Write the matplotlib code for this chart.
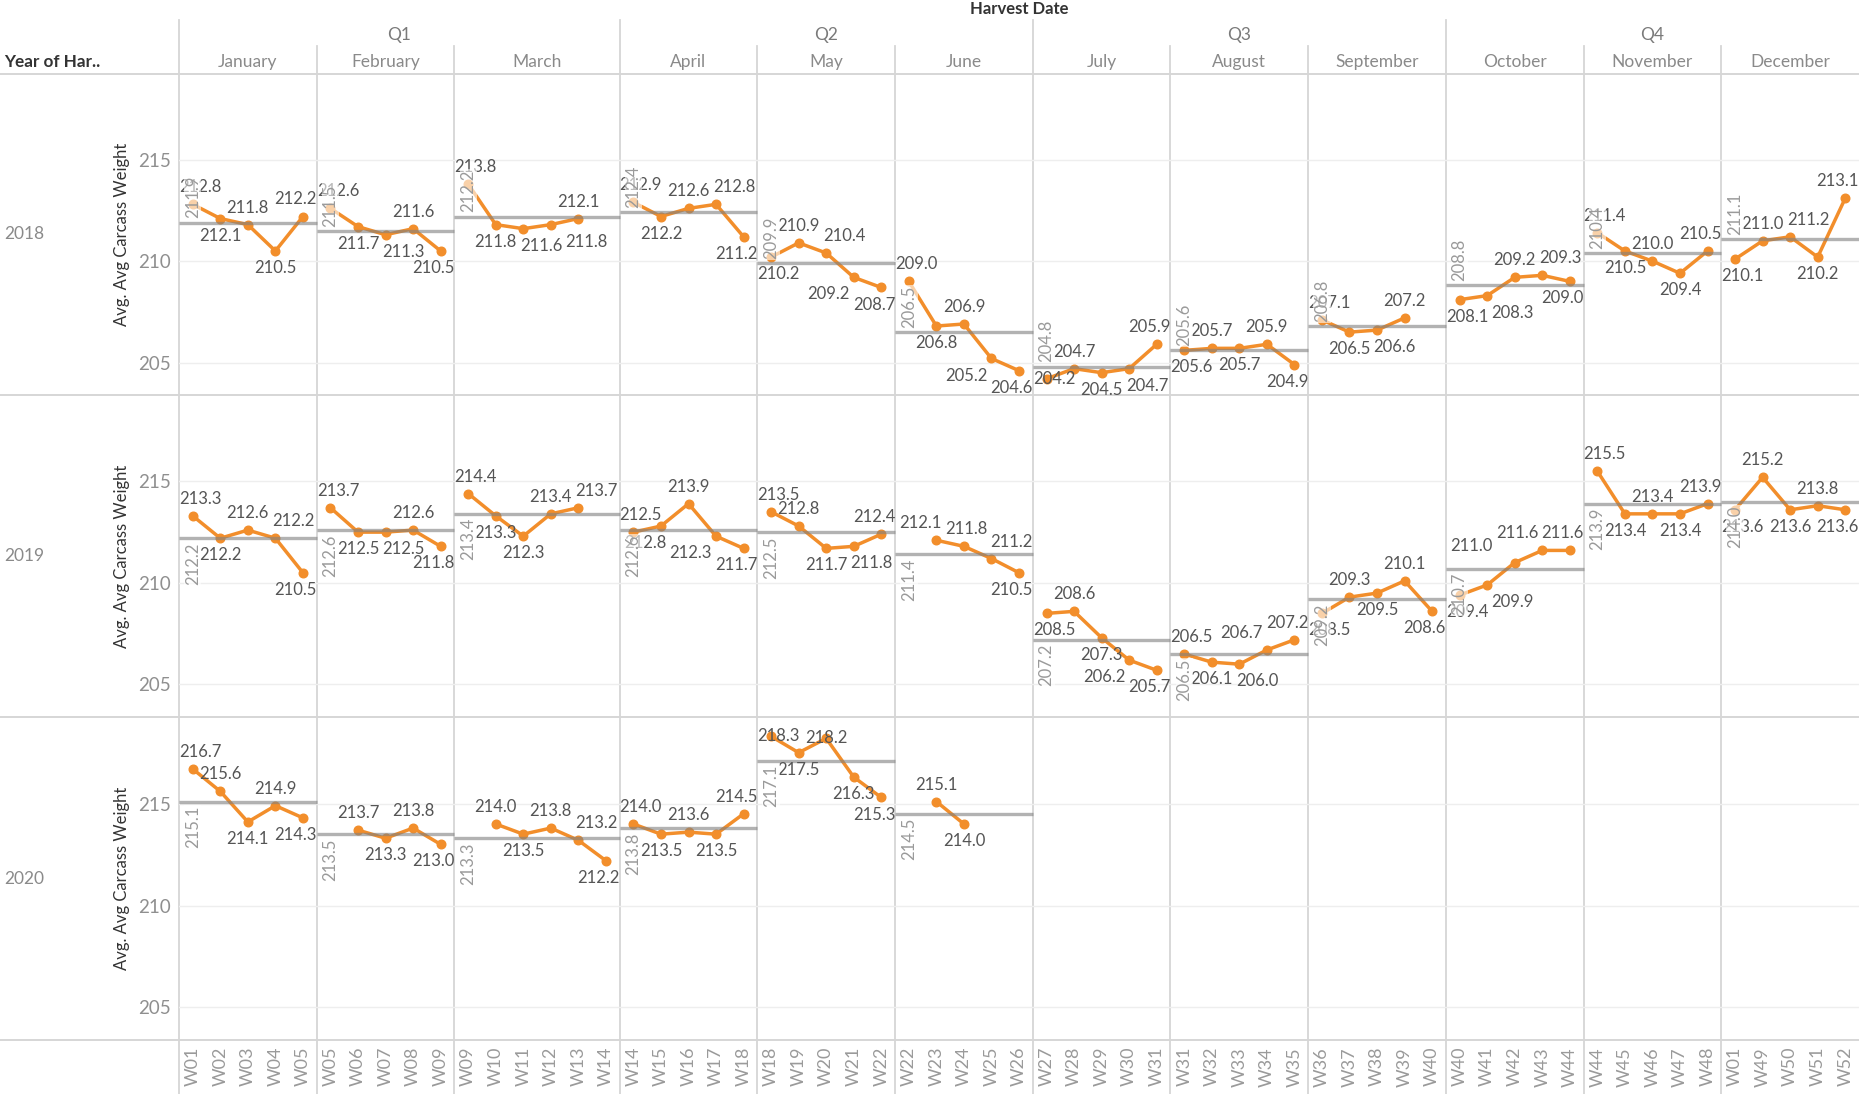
import numpy as np
import matplotlib.pyplot as plt

plt.rcParams['font.family'] = ['Lato', 'DejaVu Sans']

# ---- data -------------------------------------------------------------
years = [2018, 2019, 2020]
quarters = ["Q1", "Q2", "Q3", "Q4"]
months = ["January", "February", "March", "April", "May", "June",
          "July", "August", "September", "October", "November", "December"]
weeks = [
    ["W01", "W02", "W03", "W04", "W05"],
    ["W05", "W06", "W07", "W08", "W09"],
    ["W09", "W10", "W11", "W12", "W13", "W14"],
    ["W14", "W15", "W16", "W17", "W18"],
    ["W18", "W19", "W20", "W21", "W22"],
    ["W22", "W23", "W24", "W25", "W26"],
    ["W27", "W28", "W29", "W30", "W31"],
    ["W31", "W32", "W33", "W34", "W35"],
    ["W36", "W37", "W38", "W39", "W40"],
    ["W40", "W41", "W42", "W43", "W44"],
    ["W44", "W45", "W46", "W47", "W48"],
    ["W01", "W49", "W50", "W51", "W52"],
]

# weekly avg carcass weight, one list per month (None = no data that week)
weight_2018 = [
    [212.8, 212.1, 211.8, 210.5, 212.2],
    [212.6, 211.7, 211.3, 211.6, 210.5],
    [213.8, 211.8, 211.6, 211.8, 212.1, None],
    [212.9, 212.2, 212.6, 212.8, 211.2],
    [210.2, 210.9, 210.4, 209.2, 208.7],
    [209.0, 206.8, 206.9, 205.2, 204.6],
    [204.2, 204.7, 204.5, 204.7, 205.9],
    [205.6, 205.7, 205.7, 205.9, 204.9],
    [207.1, 206.5, 206.6, 207.2, None],
    [208.1, 208.3, 209.2, 209.3, 209.0],
    [211.4, 210.5, 210.0, 209.4, 210.5],
    [210.1, 211.0, 211.2, 210.2, 213.1],
]
weight_2019 = [
    [213.3, 212.2, 212.6, 212.2, 210.5],
    [213.7, 212.5, 212.5, 212.6, 211.8],
    [214.4, 213.3, 212.3, 213.4, 213.7, None],
    [212.5, 212.8, 213.9, 212.3, 211.7],
    [213.5, 212.8, 211.7, 211.8, 212.4],
    [None, 212.1, 211.8, 211.2, 210.5],
    [208.5, 208.6, 207.3, 206.2, 205.7],
    [206.5, 206.1, 206.0, 206.7, 207.2],
    [208.5, 209.3, 209.5, 210.1, 208.6],
    [209.4, 209.9, 211.0, 211.6, 211.6],
    [215.5, 213.4, 213.4, 213.4, 213.9],
    [213.6, 215.2, 213.6, 213.8, 213.6],
]
weight_2020 = [
    [216.7, 215.6, 214.1, 214.9, 214.3],
    [None, 213.7, 213.3, 213.8, 213.0],
    [None, 214.0, 213.5, 213.8, 213.2, 212.2],
    [214.0, 213.5, 213.6, 213.5, 214.5],
    [218.3, 217.5, 218.2, 216.3, 215.3],
    [None, 215.1, 214.0, None, None],
    [None] * 5, [None] * 5, [None] * 5,
    [None] * 5, [None] * 5, [None] * 5,
]

# monthly reference line (average)
avg_2018 = [211.9, 211.5, 212.2, 212.4, 209.9, 206.5, 204.8, 205.6, 206.8, 208.8, 210.4, 211.1]
avg_2019 = [212.2, 212.6, 213.4, 212.6, 212.5, 211.4, 207.2, 206.5, 209.2, 210.7, 213.9, 214.0]
avg_2020 = [215.1, 213.5, 213.3, 213.8, 217.1, 214.5, None, None, None, None, None, None]

series = [weight_2018, weight_2019, weight_2020]
averages = [avg_2018, avg_2019, avg_2020]

# ---- layout / style ---------------------------------------------------
W, H = 1859, 1094
LEFT = 179
ROWS = [73.5, 395, 717, 1040]
HEADER_TOP, MONTH_TOP = 20, 46
YLIM = (203.4, 219.25)
ORANGE = "#f28e2b"
SEP = "#d6d6d6"
REF_ABOVE = {2018: True, 2019: False, 2020: False}
LABEL_SIZE = 12
OFF_PT = 6.5
OFF_PX = OFF_PT * 100 / 72

fig = plt.figure(figsize=(W / 100, H / 100), dpi=100)

bg = fig.add_axes([0, 0, 1, 1])
bg.set_xlim(0, W)
bg.set_ylim(H, 0)
bg.axis("off")

n_weeks = [len(w) for w in weeks]
starts = np.concatenate([[0], np.cumsum(n_weeks)])
total = int(starts[-1])
unit = (W - LEFT) / total

# table lines
for y in ROWS:
    bg.plot([0, W], [y, y], color=SEP, lw=1.4)
for m in range(12):
    x = LEFT + starts[m] * unit
    top = HEADER_TOP if m % 3 == 0 else MONTH_TOP
    bg.plot([x, x], [top, H], color=SEP, lw=1.3)

# headers
bg.text((LEFT + W) / 2, 9, "Harvest Date", ha="center", va="center",
        fontsize=12, fontweight="bold", color="#333333")
bg.text(4, 62, "Year of Har..", ha="left", va="center",
        fontsize=12.3, fontweight="bold", color="#333333")
for q, name in enumerate(quarters):
    x0 = LEFT + starts[3 * q] * unit
    x1 = LEFT + starts[3 * q + 3] * unit
    bg.text((x0 + x1) / 2, 35, name, ha="center", va="center", fontsize=12.5, color="#7a7a7a")
for m, name in enumerate(months):
    x0 = LEFT + starts[m] * unit
    x1 = LEFT + starts[m + 1] * unit
    bg.text((x0 + x1) / 2, 62, name, ha="center", va="center", fontsize=12.5, color="#8a8a8a")

for i, yr in enumerate(years):
    yc = (ROWS[i] + ROWS[i + 1]) / 2
    bg.text(4, yc, str(yr), ha="left", va="center", fontsize=12.5, color="#8a8a8a")
    bg.text(122, yc, "Avg. Avg Carcass Weight", ha="center", va="center",
            rotation=90, fontsize=12, color="#333333")

renderer = fig.canvas.get_renderer()
probe = fig.text(0, 0, "000.0", fontsize=LABEL_SIZE)
ext = probe.get_window_extent(renderer)
LW, LH = ext.width, ext.height * 0.8
probe.remove()
GAP = 3


def place(labels, lo, hi):
    """labels: list of (px, py) centres; shift horizontally to avoid overlap."""
    order = sorted(range(len(labels)), key=lambda k: labels[k][0])
    xs = {}
    done = []
    for k in order:
        px, py = labels[k]
        x = min(max(px, lo + LW / 2), hi - LW / 2)
        for j in done:
            if abs(py - labels[j][1]) < LH and x < xs[j] + LW + GAP:
                x = xs[j] + LW + GAP
        xs[k] = min(x, hi - LW / 2)
        done.append(k)
    for idx in range(len(order) - 2, -1, -1):
        k = order[idx]
        for j in order[idx + 1:]:
            if abs(labels[k][1] - labels[j][1]) < LH and xs[k] > xs[j] - LW - GAP:
                xs[k] = xs[j] - LW - GAP
        xs[k] = max(xs[k], lo + LW / 2)
    return [xs[k] for k in range(len(labels))]


def clashes(labels, xs):
    out = []
    for a in range(len(labels)):
        for b in range(a + 1, len(labels)):
            if abs(labels[a][1] - labels[b][1]) < LH and abs(xs[a] - xs[b]) < LW + GAP - 0.5:
                out.append((a, b))
    return out


for i, yr in enumerate(years):
    top, bot = ROWS[i], ROWS[i + 1]
    ax = fig.add_axes([LEFT / W, 1 - bot / H, (W - LEFT) / W, (bot - top) / H])
    ax.set_facecolor("none")
    ax.set_xlim(-0.5, total - 0.5)
    ax.set_ylim(*YLIM)
    for sp in ax.spines.values():
        sp.set_visible(False)
    ax.set_yticks([205, 210, 215])
    ax.grid(axis="y", color="#eeeeee", lw=1)
    ax.set_axisbelow(True)
    ax.tick_params(axis="y", length=0, pad=6, labelsize=13.5, labelcolor="#8f8f8f")
    ax.set_xticks(np.arange(total))
    if i == len(years) - 1:
        ax.set_xticklabels([w for mw in weeks for w in mw], rotation=90,
                           fontsize=13, color="#9a9a9a")
        ax.tick_params(axis="x", length=0, pad=5)
    else:
        ax.set_xticklabels([])
        ax.tick_params(axis="x", length=0)

    ypx = (bot - top) / (YLIM[1] - YLIM[0])

    def to_py(v):
        return bot - (v - YLIM[0]) * ypx

    for m in range(12):
        s, n = starts[m], n_weeks[m]
        vals = np.array([np.nan if v is None else v for v in series[i][m]], float)
        if np.all(np.isnan(vals)):
            continue
        xs = s + np.arange(n)
        ax.plot(xs, vals, color=ORANGE, lw=2.5, marker="o", ms=6.2, zorder=3)

        avg = averages[i][m]
        ax.hlines(avg, s - 0.5, s + n - 0.5, color="#7f7f7f", alpha=0.6, lw=2.4, zorder=4)
        above = REF_ABOVE[yr]
        ax.annotate(f"{avg:.1f}", (s, avg), xytext=(0, 3 if above else -3),
                    textcoords="offset points", rotation=90, ha="center",
                    va="bottom" if above else "top", fontsize=LABEL_SIZE,
                    color="#9a9a9a", zorder=7,
                    bbox=dict(facecolor="white", alpha=0.6, edgecolor="none", pad=0.5))

        # point labels: above/below by neighbours, kept inside the pane
        pts = []
        for k in range(n):
            v = vals[k]
            if np.isnan(v):
                continue
            nb = [vals[j] for j in (k - 1, k + 1) if 0 <= j < n and not np.isnan(vals[j])]
            pref = "above" if (not nb or v >= np.mean(nb)) else "below"
            strength = abs(v - np.mean(nb)) if nb else 9
            pts.append((xs[k], v, pref, strength))

        lo = LEFT + s * unit
        hi = LEFT + (s + n) * unit
        flipped = set()
        for _ in range(6):
            sides, labels = [], []
            for k, (x, v, pref, _) in enumerate(pts):
                side = pref
                if k in flipped:
                    side = "below" if pref == "above" else "above"
                py = to_py(v)
                if side == "above":
                    cy = py - OFF_PX - LH / 2
                    if cy - LH / 2 < top:
                        side, cy = "center", py
                else:
                    cy = py + OFF_PX + LH / 2
                    if cy + LH / 2 > bot:
                        side, cy = "center", py
                sides.append(side)
                labels.append((LEFT + (x + 0.5) * unit, cy))
            cx = place(labels, lo, hi)
            bad = [p for p in clashes(labels, cx) if not (p[0] in flipped and p[1] in flipped)]
            if not bad:
                break
            a, b = bad[0]
            cand = [k for k in (a, b) if k not in flipped]
            flipped.add(min(cand, key=lambda k: pts[k][3]))

        for (x, v, _, _), side, c in zip(pts, sides, cx):
            dy = {"above": OFF_PT, "below": -OFF_PT, "center": 0}[side]
            va = {"above": "bottom", "below": "top", "center": "center"}[side]
            ax.annotate(f"{v:.1f}", ((c - LEFT) / unit - 0.5, v), xytext=(0, dy),
                        textcoords="offset points", ha="center", va=va,
                        fontsize=LABEL_SIZE, color="#555555", zorder=5)

fig.savefig("out.png", dpi=100)
